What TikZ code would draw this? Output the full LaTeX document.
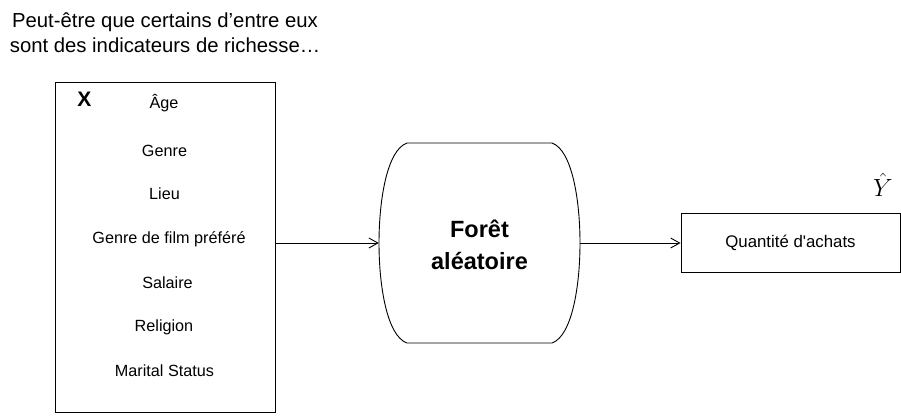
\documentclass[tikz,border=0pt]{standalone}
\usepackage{fontspec}
\setmainfont{Liberation Sans}
\usetikzlibrary{arrows.meta}
\begin{document}
\begin{tikzpicture}[x=1pt,y=-1pt,
  box/.style={draw,line width=0.9pt},
  item/.style={font=\fontsize{16.2}{20}\selectfont},
  conn/.style={line width=0.9pt,-{Straight Barb[length=9pt,width=10pt,line width=0.9pt]}}]
\useasboundingbox (0,0) rectangle (901,416);
\node[align=center,font=\fontsize{20.3}{25}\selectfont] (note) at (165,32.5) {Peut-être que certains d’entre eux\\sont des indicateurs de richesse…};
\node[box,minimum width=220pt,minimum height=330pt,inner sep=0pt] (X) at (165,247) {};
\node[font=\fontsize{21}{22}\selectfont\bfseries] (xl) at (84.5,99) {X};
\node[item] (a1) at (164,103) {Âge};
\node[item] (a2) at (164.5,151) {Genre};
\node[item] (a3) at (164.5,194) {Lieu};
\node[item] (a4) at (169,239) {Genre de film préféré};
\node[item] (a5) at (167.5,283) {Salaire};
\node[item] (a6) at (164,327) {Religion};
\node[item] (a7) at (164.5,371) {Marital Status};
\coordinate (F) at (479.5,243);
\draw[line width=0.9pt] (407,143) -- (552,143) .. controls (572,150) and (580,200) .. (580,243)
  .. controls (580,286) and (572,336) .. (552,343) -- (407,343)
  .. controls (387,336) and (379,286) .. (379,243)
  .. controls (379,200) and (387,150) .. (407,143) -- cycle;
\node[align=center,font=\fontsize{23.5}{32}\selectfont\bfseries,inner sep=0pt,minimum width=201pt,minimum height=200pt] (forest) at (479.5,245) {Forêt\\aléatoire};
\node[box,minimum width=219pt,minimum height=59pt,inner sep=0pt,font=\fontsize{16.8}{20}\selectfont] (Q) at (790.5,242.5) {Quantité d\textquotesingle achats};
\node[font=\fontsize{29}{29}\selectfont,inner sep=0pt] (yh) at (883,185) {$\hat{Y}$};
\draw[conn] (X.east |- F) -- (forest.west |- F);
\draw[conn] (forest.east |- F) -- (Q.west |- F);
\end{tikzpicture}
\end{document}
